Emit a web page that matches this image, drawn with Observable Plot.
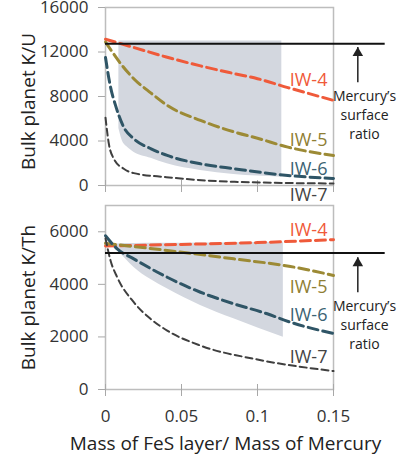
<!DOCTYPE html>
<html>
<head>
<meta charset="utf-8">
<script src="https://cdn.jsdelivr.net/npm/d3@7"></script>
<script src="https://cdn.jsdelivr.net/npm/@observablehq/plot@0.6"></script>
<style>
  html, body { margin: 0; padding: 0; background: #fff; }
  #chart svg { display: block; overflow: visible; }
</style>
</head>
<body>
<div id="chart"></div>
<script>
// ---- data ----
const X_TICKS = [0, 0.05, 0.1, 0.15];
const KU_TICKS = [0, 4000, 8000, 12000, 16000];
const KTH_TICKS = [0, 2000, 4000, 6000];
const SERIES = ["IW-4", "IW-5", "IW-6", "IW-7"];
const COLORS = ["#ef5a3a", "#9c8a35", "#2f5566", "#3f3f3f"];
const LABEL_COLORS = ["#ef5a3a", "#8f7e33", "#3b6373", "#444444"];

// K/U panel series: [mass fraction, K/U]
const KU_IW4 = [[0,13150],[0.02,12350],[0.04,11550],[0.0625,10750],[0.085,10050],[0.1,9600],[0.12,8800],[0.15,7650]];
const KU_IW5 = [[0,12900],[0.005,11900],[0.01,10950],[0.0186,9600],[0.03,8300],[0.0406,7200],[0.0625,5850],[0.085,4800],[0.1,4250],[0.12,3450],[0.15,2700]];
const KU_IW6 = [[0,11500],[0.0033,8850],[0.0066,7200],[0.012,5250],[0.0186,4200],[0.03,3300],[0.0406,2700],[0.0625,1950],[0.085,1500],[0.12,900],[0.15,630]];
const KU_IW7 = [[0,6100],[0.0022,3750],[0.0055,2400],[0.012,1500],[0.0186,1110],[0.04,750],[0.085,330],[0.15,180]];
const KU_SHADE_X  = [0.0088, 0.011, 0.0143, 0.0186, 0.03, 0.0406, 0.0625, 0.0844, 0.1, 0.116];
const KU_SHADE_LO = [5130, 4050, 3450, 3000, 2450, 1950, 1350, 990, 850, 750];
const KU_SHADE_HI = [13000, 13000, 13000, 13000, 13000, 13000, 13000, 13000, 13000, 13000];
const KU_SURFACE = 12750;
const KU_ARROW = [0.166, 9270, 12450];   // x, tail, tip
const KU_NOTE_Y = 6450;
const KU_LABEL_Y = [9450, 4050, 1500, -900];

// K/Th panel series
const KTH_IW4 = [[0,5460],[0.05,5520],[0.1,5590],[0.15,5700]];
const KTH_IW5 = [[0,5560],[0.0406,5290],[0.0844,4970],[0.1217,4680],[0.15,4340]];
const KTH_IW6 = [[0,5850],[0.0077,5350],[0.0186,4970],[0.0406,4270],[0.0625,3700],[0.0844,3260],[0.1064,2880],[0.1217,2560],[0.15,2130]];
const KTH_IW7 = [[0,5750],[0.0033,4910],[0.0077,4270],[0.0186,3320],[0.0296,2690],[0.0406,2240],[0.0625,1670],[0.1,1140],[0.15,700]];
const KTH_SHADE_X  = [0.003, 0.0077, 0.0186, 0.0406, 0.0625, 0.0844, 0.117];
const KTH_SHADE_LO = [5500, 5290, 4650, 3830, 3200, 2690, 1990];
const KTH_SHADE_HI = [5520, 5540, 5550, 5560, 5570, 5580, 5600];
const KTH_SURFACE = 5190;
const KTH_ARROW = [0.166, 3700, 5034];
const KTH_NOTE_Y = 2500;
const KTH_LABEL_Y = [6050, 3890, 2820, 1230];

const LABEL_X = 0.1336;
const NOTE_X = 0.1704;
const RULE_END = 0.184;
const NOTE_TEXT = "Mercury\u2019s\nsurface\nratio";
const X_TITLE = "Mass of FeS layer/ Mass of Mercury";

const FONT = "'Open Sans', 'Noto Sans', sans-serif";

function panel(o) {
  const shade = o.shadeX.map((x, i) => ({x, lo: o.shadeLo[i], hi: o.shadeHi[i]}));
  const marks = [
    Plot.areaY(shade, {x: "x", y1: "lo", y2: "hi", fill: "#d3d7df", curve: "monotone-x"}),
    Plot.frame({stroke: "#bdbdbd", strokeWidth: 1.5}),
    Plot.axisY({ticks: o.yTicks, tickSize: 7, tickPadding: 10, tickFormat: d3.format("d"),
                stroke: "#a8a8a8", fill: "#333", label: null, fontSize: 17}),
    Plot.axisX({ticks: X_TICKS, tickSize: 12, dy: -5, tickFormat: () => "", stroke: "#a8a8a8", label: null})
  ];
  if (o.xLabels) {
    marks.push(Plot.axisX({ticks: X_TICKS, tickSize: 0, tickPadding: 20, tickFormat: d => String(d),
                           fill: "#333", label: null, fontSize: 17}));
    marks.push(Plot.text([X_TITLE], {frameAnchor: "bottom", textAnchor: "middle", lineAnchor: "middle",
                           dy: 54, dx: 6, fontSize: 19, fill: "#222"}));
  }
  o.series.forEach((s, i) => {
    const thin = i === 3;
    marks.push(Plot.line(s, {x: d => d[0], y: d => d[1], stroke: COLORS[i],
      strokeWidth: thin ? 2 : 3, strokeDasharray: thin ? "7,4" : "10,5", curve: "monotone-x"}));
  });
  marks.push(Plot.ruleY([o.surface], {y: d => d, x1: 0, x2: RULE_END, stroke: "#111", strokeWidth: 2}));
  marks.push(Plot.link([o.arrow], {x1: d => d[0], x2: d => d[0], y1: d => d[1], y2: d => d[2],
                                   stroke: "#222", strokeWidth: 1.5}));
  marks.push(Plot.dot([o.arrow], {x: d => d[0], y: d => d[2], dy: 6, symbol: "triangle", r: 3.9,
                                  fill: "#222", stroke: "none"}));
  marks.push(Plot.text([NOTE_TEXT], {x: NOTE_X, y: o.noteY, fontSize: 14, lineHeight: 1.39,
                                     textAnchor: "middle", lineAnchor: "middle", fill: "#222"}));
  marks.push(Plot.text(SERIES, {x: LABEL_X, y: (d, i) => o.labelY[i], fill: (d, i) => LABEL_COLORS[i],
                                fontSize: 18, textAnchor: "middle", lineAnchor: "middle"}));
  marks.push(Plot.text([o.yLabel], {frameAnchor: "left", rotate: -90, textAnchor: "middle", lineAnchor: "middle",
                                    dx: -77, dy: o.yLabelDy, fontSize: 19, fill: "#222"}));
  return Plot.plot({
    width: 406,
    height: o.height,
    marginLeft: 105,
    marginRight: 73,
    marginTop: o.marginTop,
    marginBottom: o.marginBottom,
    x: {domain: [0, 0.15]},
    y: {domain: o.yDomain},
    color: {type: "identity"},
    style: {fontFamily: FONT, fontSize: "17px", color: "#333", background: "transparent"},
    marks
  });
}

const topPanel = panel({
  height: 200, marginTop: 7, marginBottom: 15, yDomain: [0, 16000], yTicks: KU_TICKS,
  series: [KU_IW4, KU_IW5, KU_IW6, KU_IW7],
  shadeX: KU_SHADE_X, shadeLo: KU_SHADE_LO, shadeHi: KU_SHADE_HI,
  surface: KU_SURFACE, arrow: KU_ARROW, noteY: KU_NOTE_Y, labelY: KU_LABEL_Y,
  yLabel: "Bulk planet K/U", yLabelDy: 5, xLabels: false
});
const bottomPanel = panel({
  height: 259, marginTop: 5, marginBottom: 70, yDomain: [0, 7000], yTicks: KTH_TICKS,
  series: [KTH_IW4, KTH_IW5, KTH_IW6, KTH_IW7],
  shadeX: KTH_SHADE_X, shadeLo: KTH_SHADE_LO, shadeHi: KTH_SHADE_HI,
  surface: KTH_SURFACE, arrow: KTH_ARROW, noteY: KTH_NOTE_Y, labelY: KTH_LABEL_Y,
  yLabel: "Bulk planet K/Th", yLabelDy: 0, xLabels: true
});
const el = document.getElementById("chart");
el.appendChild(topPanel);
el.appendChild(bottomPanel);
</script>
</body>
</html>
